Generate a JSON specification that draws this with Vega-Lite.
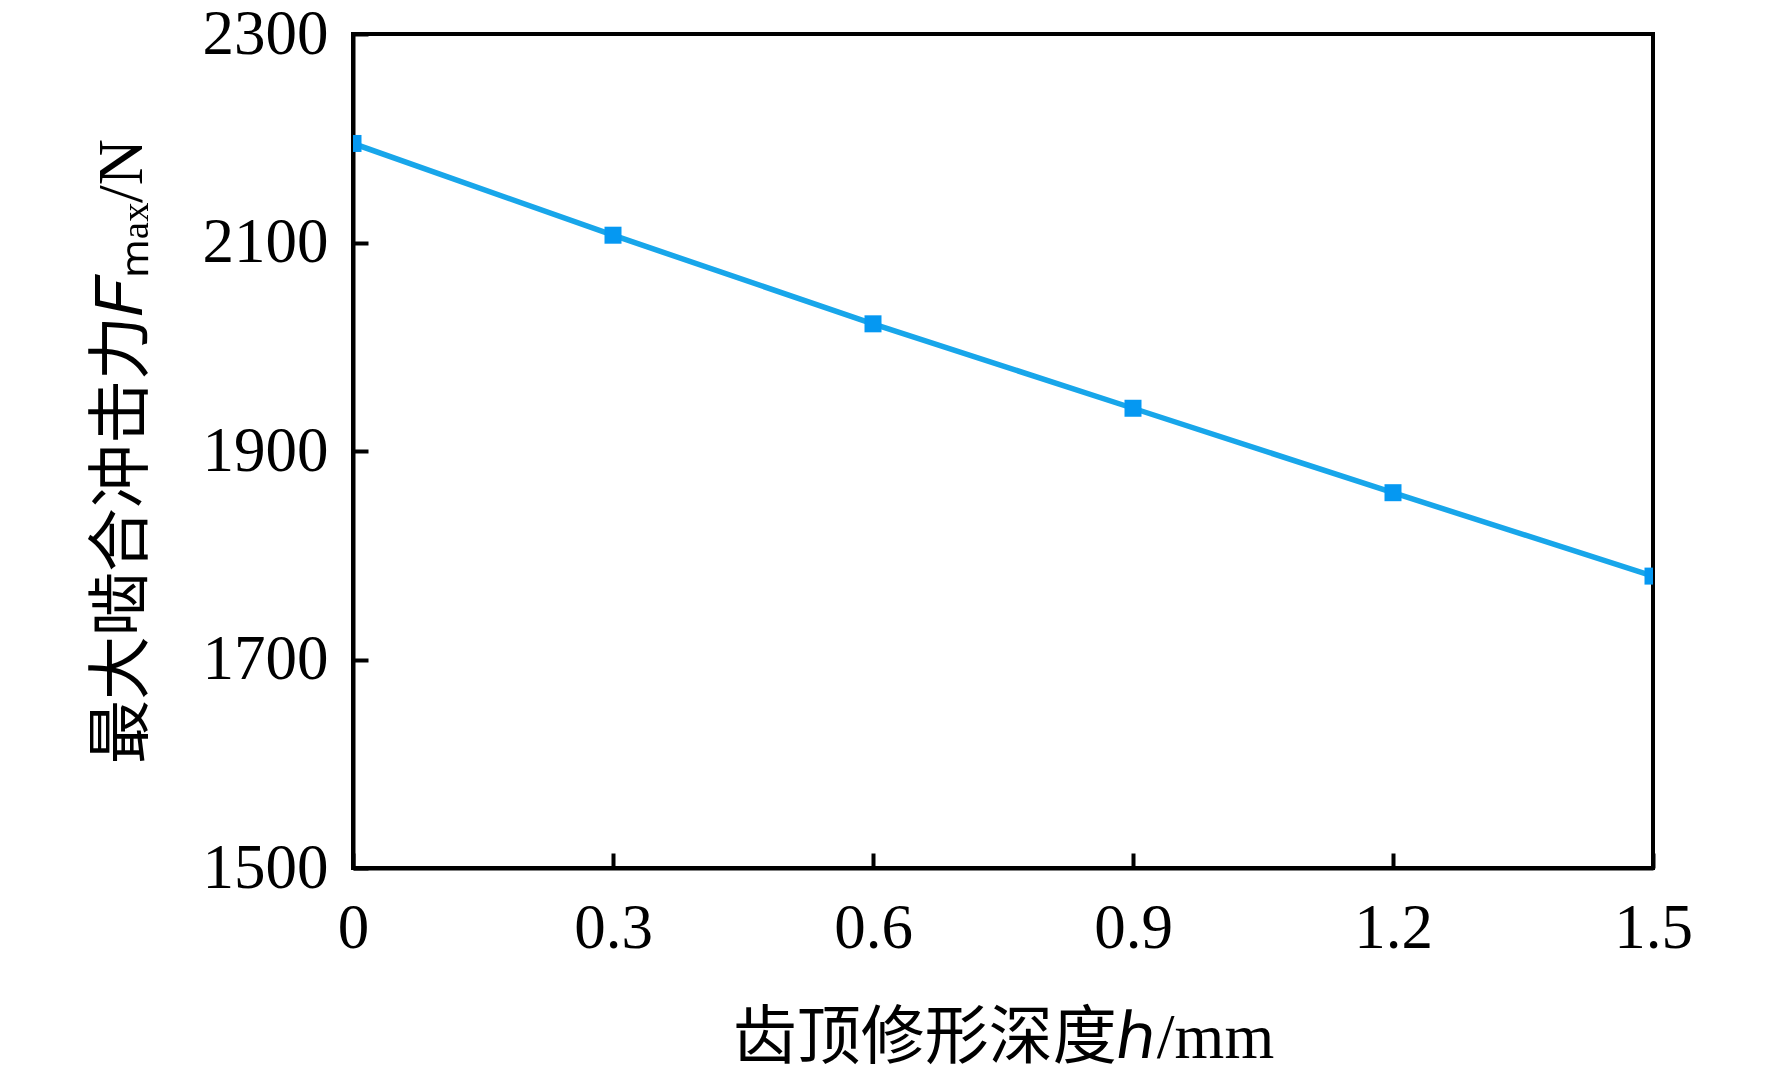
{
  "$schema": "https://vega.github.io/schema/vega-lite/v6.json",
  "autosize": "none",
  "padding": {"left": 353, "top": 34, "right": 119, "bottom": 206},
  "width": 1300,
  "height": 834,
  "background": "white",
  "config": {
    "view": {"stroke": "black", "strokeWidth": 4},
    "axis": {
      "domainColor": "black",
      "domainWidth": 4,
      "tickColor": "black",
      "tickWidth": 4,
      "tickSize": -15,
      "grid": false,
      "labelFont": "Liberation Serif",
      "labelFontSize": 63,
      "labelColor": "black",
      "titleFont": "Liberation Serif, Noto Sans CJK SC",
      "titleFontSize": 64,
      "titleFontWeight": "normal",
      "titleColor": "black"
    }
  },
  "data": {
    "values": [
      {"h": 0, "F": 2195},
      {"h": 0.3, "F": 2107},
      {"h": 0.6, "F": 2022},
      {"h": 0.9, "F": 1941},
      {"h": 1.2, "F": 1860},
      {"h": 1.5, "F": 1780}
    ]
  },
  "encoding": {
    "x": {
      "field": "h",
      "type": "quantitative",
      "scale": {"domain": [0, 1.5], "nice": false, "zero": false},
      "axis": {
        "values": [0, 0.3, 0.6, 0.9, 1.2, 1.5],
        "format": "~g",
        "labelPadding": 44,
        "labelFlush": false,
        "title": "齿顶修形深度ℎ/mm",
        "titlePadding": 46
      }
    },
    "y": {
      "field": "F",
      "type": "quantitative",
      "scale": {"domain": [1500, 2300], "nice": false, "zero": false},
      "axis": {
        "values": [1500, 1700, 1900, 2100, 2300],
        "format": "d",
        "labelPadding": 40,
        "labelFlush": false,
        "title": "最大啮合冲击力𝐹ₘₐₓ/N",
        "titlePadding": 48
      }
    }
  },
  "layer": [
    {"mark": {"type": "line", "color": "#18A6EA", "strokeWidth": 5.5, "clip": true}},
    {"mark": {"type": "point", "shape": "square", "filled": true, "opacity": 1, "color": "#0598F2", "size": 289, "clip": true}}
  ]
}
